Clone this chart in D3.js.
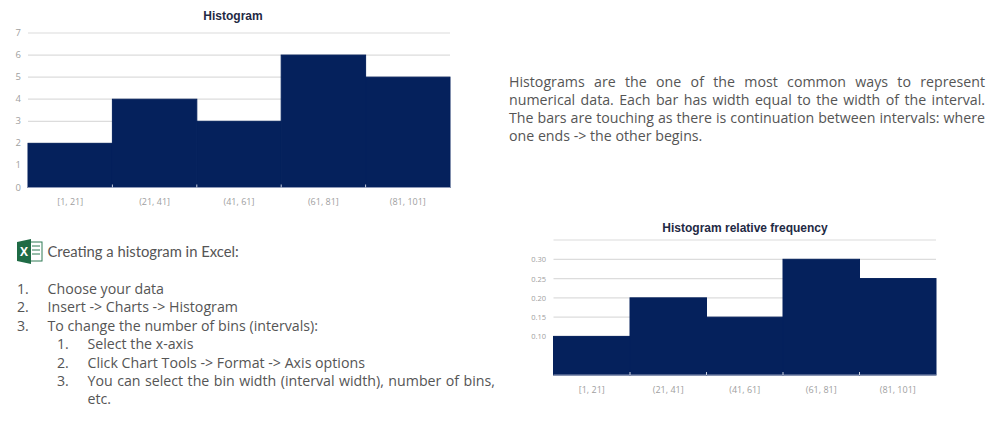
<!DOCTYPE html>
<html>
<head>
<meta charset="utf-8">
<script src="https://cdn.jsdelivr.net/npm/d3@7"></script>
<style>
html, body { margin: 0; padding: 0; background: #fff; overflow: hidden; }
svg { display: block; }
text { font-family: "Open Sans", sans-serif; }
.grid line { stroke: #dcdcdc; stroke-width: 1.2; }
.tick-label { fill: #a0a0a0; }
.chart-title { font-family: "Liberation Sans", sans-serif; font-weight: bold; font-size: 12px; fill: #1f2a44; text-anchor: middle; }
.body-text { fill: #555; }
</style>
</head>
<body>
<svg id="page" width="998" height="426"></svg>
<script>
const binEdges = [1, 21, 41, 61, 81, 101];
const binLabels = ["[1, 21]", "(21, 41]", "(41, 61]", "(61, 81]", "(81, 101]"];
const counts = [2, 4, 3, 6, 5];
const relFreq = [0.10, 0.20, 0.15, 0.30, 0.25];
const countTicks = [0, 1, 2, 3, 4, 5, 6, 7];
const relGrid = [0.10, 0.15, 0.20, 0.25, 0.30, 0.35];
const relTickLabels = [0.10, 0.15, 0.20, 0.25, 0.30];

const introLines = [
  "Histograms are the one of the most common ways to represent",
  "numerical data. Each bar has width equal to the width of the interval.",
  "The bars are touching as there is continuation between intervals: where",
  "one ends -> the other begins."
];
const stepsTitle = "Creating a histogram in Excel:";
const steps = [
  ["1.", "Choose your data", 0],
  ["2.", "Insert -> Charts -> Histogram", 0],
  ["3.", "To change the number of bins (intervals):", 0],
  ["1.", "Select the x-axis", 1],
  ["2.", "Click Chart Tools -> Format -> Axis options", 1],
  ["3.", "You can select the bin width (interval width), number of bins,", 1],
  ["", "etc.", 1]
];

const svg = d3.select("#page");

function justify(sel, width) {
  const gaps = sel.text().split(" ").length - 1;
  const extra = (width - sel.node().getComputedTextLength()) / gaps;
  sel.style("word-spacing", extra + "px");
}

function drawHistogram(opts) {
  const x = d3.scaleLinear().domain([1, 101]).range([opts.left, opts.right]);
  const y = d3.scaleLinear().domain([0, opts.yMax]).range([opts.bottom, opts.top]);
  const g = svg.append("g");

  g.append("g").attr("class", "grid")
    .selectAll("line")
    .data(opts.grid)
    .join("line")
    .attr("x1", opts.left)
    .attr("x2", opts.right)
    .attr("y1", d => y(d))
    .attr("y2", d => y(d));

  // same colour stroke so neighbouring bars have no seam
  g.selectAll(".bar")
    .data(opts.values)
    .join("rect")
    .attr("class", "bar")
    .attr("x", (d, i) => x(binEdges[i]))
    .attr("width", (d, i) => x(binEdges[i + 1]) - x(binEdges[i]))
    .attr("y", d => y(d))
    .attr("height", d => y(0) - y(d))
    .attr("fill", "#05215c")
    .attr("stroke", "#05215c")
    .attr("stroke-width", 1);

  // base line and the little ticks at the bin edges
  g.append("line")
    .attr("x1", opts.left).attr("x2", opts.right)
    .attr("y1", y(0)).attr("y2", y(0))
    .attr("stroke", "#8f9ab8").attr("stroke-width", 1.2);
  g.selectAll(".edge")
    .data(binEdges.slice(1, -1))
    .join("line")
    .attr("class", "edge")
    .attr("x1", d => x(d)).attr("x2", d => x(d))
    .attr("y1", y(0) - 3).attr("y2", y(0))
    .attr("stroke", "#c9cfdf");

  g.selectAll(".ylab")
    .data(opts.yLabels)
    .join("text")
    .attr("class", "ylab tick-label")
    .attr("x", opts.labelX)
    .attr("y", d => y(d) + 3)
    .attr("text-anchor", "end")
    .style("font-size", opts.yFont + "px")
    .text(opts.yFormat);

  g.selectAll(".xlab")
    .data(binLabels)
    .join("text")
    .attr("class", "xlab tick-label")
    .attr("x", (d, i) => (x(binEdges[i]) + x(binEdges[i + 1])) / 2)
    .attr("y", opts.bottom + 17.5)
    .attr("text-anchor", "middle")
    .style("font-size", "9px")
    .text(d => d);

  g.append("text")
    .attr("class", "chart-title")
    .attr("x", opts.titleX)
    .attr("y", opts.titleY)
    .text(opts.title);
}

drawHistogram({
  left: 28, right: 450, top: 33, bottom: 187.5, yMax: 7,
  values: counts, grid: countTicks.slice(1), yLabels: countTicks,
  yFormat: d3.format("d"), yFont: 9.5, labelX: 21,
  title: "Histogram", titleX: 233, titleY: 19.5
});

drawHistogram({
  left: 553.5, right: 936, top: 240, bottom: 375, yMax: 0.35,
  values: relFreq, grid: relGrid, yLabels: relTickLabels,
  yFormat: d3.format(".2f"), yFont: 7.5, labelX: 546,
  title: "Histogram relative frequency", titleX: 745, titleY: 232
});

// intro paragraph, justified by hand except the last line
const introLeft = 509, introRight = 985;
svg.append("g").selectAll("text")
  .data(introLines)
  .join("text")
  .attr("class", "body-text")
  .attr("x", introLeft)
  .attr("y", (d, i) => 86.5 + i * 18.3)
  .style("font-size", "14.2px")
  .text(d => d)
  .each(function(d, i) {
    if (i < introLines.length - 1) justify(d3.select(this), introRight - introLeft);
  });

// excel icon
const icon = svg.append("g").attr("transform", "translate(17,239)");
icon.append("rect").attr("x", 12).attr("y", 3).attr("width", 13).attr("height", 19)
  .attr("fill", "#fff").attr("stroke", "#2f7a55").attr("stroke-width", 1);
icon.selectAll(".cell").data([7, 11, 15]).join("line")
  .attr("class", "cell")
  .attr("x1", 15).attr("x2", 23).attr("y1", d => d).attr("y2", d => d)
  .attr("stroke", "#2f7a55");
icon.append("path").attr("d", "M0 3L14 0V25L0 22Z").attr("fill", "#1f6b45");
icon.append("text").attr("x", 7).attr("y", 17).attr("text-anchor", "middle")
  .attr("fill", "#fff").style("font-size", "12px").style("font-weight", "bold").text("X");

svg.append("text")
  .attr("class", "body-text")
  .attr("x", 47.5)
  .attr("y", 257)
  .style("font-family", "Lato, sans-serif")
  .style("font-size", "14.8px")
  .text(stepsTitle);

const stepG = svg.append("g").selectAll("g")
  .data(steps)
  .join("g")
  .attr("transform", (d, i) => `translate(${d[2] ? 57 : 17},${294 + i * 18.4})`);
stepG.append("text").attr("class", "body-text").style("font-size", "14.2px").text(d => d[0]);
stepG.append("text").attr("class", "body-text").attr("x", 30.5).style("font-size", "14.2px")
  .text(d => d[1])
  .each(function(d) {
    // only the long sub-step is stretched out to the margin
    if (d[1].startsWith("You can")) justify(d3.select(this), 495 - 87.5);
  });
</script>
</body>
</html>
